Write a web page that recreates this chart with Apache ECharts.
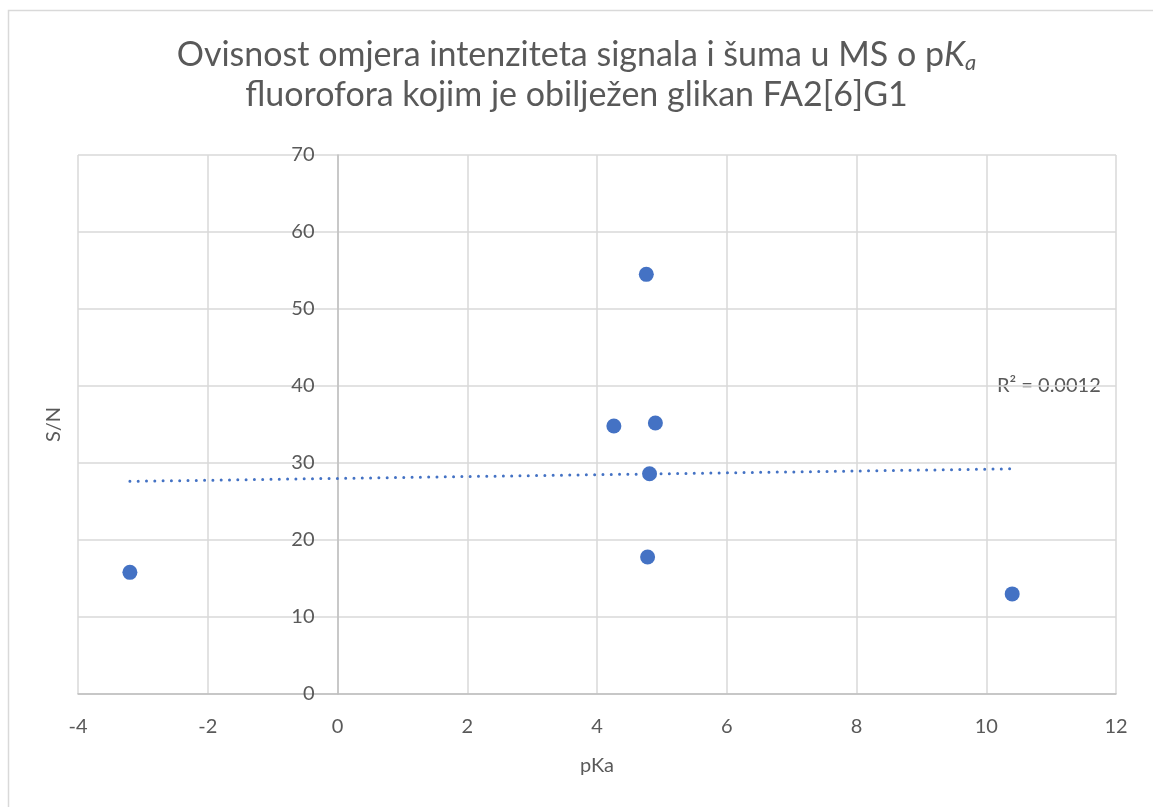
<!DOCTYPE html>
<html>
<head>
<meta charset="utf-8">
<script src="https://cdn.jsdelivr.net/npm/echarts@6/dist/echarts.min.js"></script>
<style>
  html, body { margin: 0; padding: 0; background: #ffffff; }
  #chart { width: 1153px; height: 807px; }
</style>
</head>
<body>
<div id="chart"></div>
<script>
/* global echarts */

// measured pKa (x) and S/N (y) for each fluorophore
const PKA_VALUES = [-3.2, 4.26, 4.76, 4.9, 4.81, 4.78, 10.4];
const SN_VALUES = [15.8, 34.8, 54.5, 35.2, 28.6, 17.8, 13.0];
const R2_TEXT = "R² = 0.0012";

const X_MIN = -4;
const X_MAX = 12;
const X_STEP = 2;
const Y_MIN = 0;
const Y_MAX = 70;
const Y_STEP = 10;

const GRID_LEFT = 78;
const GRID_RIGHT = 37;
const CHART_W = 1153;

const POINT_COLOR = "#4472C4";
const GRID_COLOR = "#d9d9d9";
const AXIS_COLOR = "#bfbfbf";
const TEXT_COLOR = "#595959";
const FONT = "Lato, 'Open Sans', sans-serif";

function linearFit(xs, ys) {
  const n = xs.length;
  const mx = xs.reduce((a, b) => a + b, 0) / n;
  const my = ys.reduce((a, b) => a + b, 0) / n;
  let sxy = 0;
  let sxx = 0;
  for (let i = 0; i < n; i += 1) {
    sxy += (xs[i] - mx) * (ys[i] - my);
    sxx += (xs[i] - mx) * (xs[i] - mx);
  }
  const slope = sxy / sxx;
  return { slope, intercept: my - slope * mx };
}

const fit = linearFit(PKA_VALUES, SN_VALUES);
const xLo = Math.min(...PKA_VALUES);
const xHi = Math.max(...PKA_VALUES);
const trendData = [
  [xLo, fit.intercept + fit.slope * xLo],
  [xHi, fit.intercept + fit.slope * xHi],
];
const pointData = PKA_VALUES.map((x, i) => [x, SN_VALUES[i]]);

// y axis crosses the x axis at 0, like Excel does
const plotWidth = CHART_W - GRID_LEFT - GRID_RIGHT;
const yAxisOffset = -((0 - X_MIN) / (X_MAX - X_MIN)) * plotWidth;

const chart = echarts.init(document.getElementById("chart"), null, { renderer: "canvas" });

chart.setOption({
  animation: false,
  backgroundColor: "#ffffff",
  textStyle: { fontFamily: FONT },
  title: {
    text: "Ovisnost omjera intenziteta signala i šuma u MS o p{i|K}{sub|a}\nfluorofora kojim je obilježen glikan FA2[6]G1",
    left: "center",
    top: 30,
    textStyle: {
      fontFamily: FONT,
      fontSize: 34,
      fontWeight: "normal",
      color: TEXT_COLOR,
      lineHeight: 40,
      rich: {
        i: { fontFamily: FONT, fontSize: 34, fontStyle: "italic", color: TEXT_COLOR, lineHeight: 40 },
        sub: { fontFamily: FONT, fontSize: 22, fontStyle: "italic", color: TEXT_COLOR, lineHeight: 40, padding: [16, 0, 0, 0] },
      },
    },
  },
  graphic: [
    {
      type: "rect",
      shape: { x: 8.5, y: 10.5, width: 1160, height: 820 },
      style: { fill: "none", stroke: GRID_COLOR, lineWidth: 1.5 },
      silent: true,
    },
    {
      type: "text",
      left: 997,
      top: 376,
      style: { text: R2_TEXT, fontFamily: FONT, fontSize: 20, fill: TEXT_COLOR },
    },
  ],
  grid: {
    left: GRID_LEFT,
    right: GRID_RIGHT,
    top: 155,
    bottom: 113,
    outerBoundsMode: "none",
    containLabel: false,
  },
  xAxis: {
    type: "value",
    min: X_MIN,
    max: X_MAX,
    interval: X_STEP,
    name: "pKa",
    nameLocation: "middle",
    nameGap: 62,
    nameTextStyle: { fontFamily: FONT, fontSize: 20, color: TEXT_COLOR },
    axisLine: { show: true, onZero: false, lineStyle: { color: AXIS_COLOR, width: 1.5 } },
    axisTick: { show: false },
    axisLabel: { fontFamily: FONT, fontSize: 20, color: TEXT_COLOR, margin: 23 },
    splitLine: { show: true, lineStyle: { color: GRID_COLOR, width: 1.5 } },
  },
  yAxis: {
    type: "value",
    min: Y_MIN,
    max: Y_MAX,
    interval: Y_STEP,
    offset: yAxisOffset,
    name: "S/N",
    nameLocation: "middle",
    nameGap: 274,
    nameRotate: 90,
    nameTextStyle: { fontFamily: FONT, fontSize: 20, color: TEXT_COLOR },
    axisLine: { show: true, onZero: false, lineStyle: { color: AXIS_COLOR, width: 1.5 } },
    axisTick: { show: false },
    axisLabel: { fontFamily: FONT, fontSize: 20, color: TEXT_COLOR, margin: 23 },
    splitLine: { show: true, lineStyle: { color: GRID_COLOR, width: 1.5 } },
  },
  series: [
    {
      name: "trend",
      type: "line",
      data: trendData,
      showSymbol: false,
      symbol: "none",
      silent: true,
      z: 2,
      lineStyle: { color: POINT_COLOR, width: 3, type: [0, 8.3], cap: "round" },
    },
    {
      name: "S/N",
      type: "scatter",
      data: pointData,
      symbol: "circle",
      symbolSize: 15,
      z: 3,
      itemStyle: { color: POINT_COLOR, opacity: 1 },
    },
  ],
});
</script>
</body>
</html>
